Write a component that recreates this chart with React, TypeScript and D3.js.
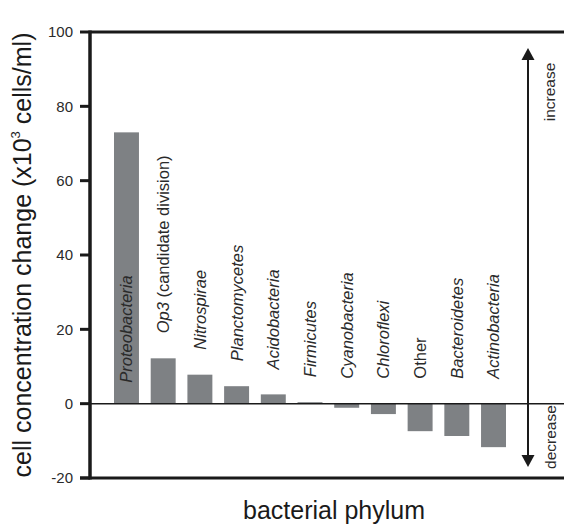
import * as d3 from "d3";

const phyla = [
  "Proteobacteria",
  "Op3",
  "Nitrospirae",
  "Planctomycetes",
  "Acidobacteria",
  "Firmicutes",
  "Cyanobacteria",
  "Chloroflexi",
  "Other",
  "Bacteroidetes",
  "Actinobacteria",
];
const changes = [73, 12.2, 7.8, 4.7, 2.5, 0.4, -1.1, -2.8, -7.4, -8.7, -11.7];
const yTicks = [-20, 0, 20, 40, 60, 80, 100];

const W = 564;
const H = 526;
const FONT = "'Liberation Sans', Arial, Helvetica, sans-serif";
const INK = "#1a1a1a";
const TEXT = "#2a2a2a";
const BAR = "#7e8184";

export default function App() {
  const left = 90;
  const top = 32;
  const bottom = 478;
  const arrowX = 528;

  const y = d3.scaleLinear().domain([-20, 100]).range([bottom, top]);
  const x = d3
    .scaleBand<string>()
    .domain(phyla)
    .range([114, 506])
    .paddingInner(0.32)
    .paddingOuter(0);

  const y0 = y(0);

  return (
    <svg
      width={W}
      height={H}
      style={{ position: "absolute", left: 0, top: 0, background: "#fff" }}
      fontFamily={FONT}
    >
      {/* bars */}
      {phyla.map((p, i) => {
        const v = changes[i];
        return (
          <rect
            key={p}
            x={x(p)}
            y={Math.min(y(v), y0)}
            width={x.bandwidth()}
            height={Math.abs(y(v) - y0)}
            fill={BAR}
          />
        );
      })}

      {/* zero line */}
      <line x1={left} x2={W} y1={y0} y2={y0} stroke={INK} strokeWidth={1.5} />

      {/* frame */}
      <line x1={left} x2={W} y1={top} y2={top} stroke={INK} strokeWidth={3} />
      <line x1={left - 10} x2={W} y1={bottom} y2={bottom} stroke={INK} strokeWidth={3} />
      <line x1={left} x2={left} y1={top - 1.5} y2={bottom + 1.5} stroke={INK} strokeWidth={3.5} />

      {/* y ticks */}
      {yTicks.map((t) => (
        <g key={t}>
          <line x1={left - 10} x2={left} y1={y(t)} y2={y(t)} stroke={INK} strokeWidth={3} />
          <text
            x={73}
            y={y(t)}
            dy="0.35em"
            textAnchor="end"
            fontSize={15}
            fill={TEXT}
          >
            {t}
          </text>
        </g>
      ))}

      {/* category labels */}
      {phyla.map((p, i) => {
        const v = changes[i];
        const cx = (x(p) as number) + x.bandwidth() / 2;
        const start = i === 0 ? y0 - 21 : Math.min(y(v), y0) - 25;
        return (
          <text
            key={p}
            transform={`translate(${cx},${start}) rotate(-90)`}
            dy="0.36em"
            fontSize={16.5}
            fill={TEXT}
          >
            {p === "Op3" ? (
              <>
                <tspan fontStyle="italic">Op3</tspan>
                <tspan> (candidate division)</tspan>
              </>
            ) : (
              <tspan fontStyle={p === "Other" ? "normal" : "italic"}>{p}</tspan>
            )}
          </text>
        );
      })}

      {/* arrow */}
      <line x1={arrowX} x2={arrowX} y1={58} y2={457} stroke={INK} strokeWidth={2} />
      <path
        d={`M${arrowX},48 L${arrowX - 6.5},60 L${arrowX + 6.5},60 Z`}
        fill={INK}
      />
      <path
        d={`M${arrowX},467 L${arrowX - 6.5},455 L${arrowX + 6.5},455 Z`}
        fill={INK}
      />
      <text
        transform={`translate(${arrowX + 22},${y(100) + 60}) rotate(-90)`}
        dy="0.35em"
        textAnchor="middle"
        fontSize={15.5}
        fill={TEXT}
      >
        increase
      </text>
      <text
        transform={`translate(${arrowX + 23},${y(-9)}) rotate(-90)`}
        dy="0.35em"
        textAnchor="middle"
        fontSize={15.5}
        fill={TEXT}
      >
        decrease
      </text>

      {/* axis titles */}
      <text
        transform={`translate(31,${(top + bottom) / 2}) rotate(-90)`}
        textAnchor="middle"
        fontSize={25}
        fill={INK}
      >
        cell concentration change (x10
        <tspan fontSize={13} dy="-11">3</tspan>
        <tspan dy="11"> cells/ml)</tspan>
      </text>
      <text x={334} y={519} textAnchor="middle" fontSize={25} fill={INK}>
        bacterial phylum
      </text>
    </svg>
  );
}
